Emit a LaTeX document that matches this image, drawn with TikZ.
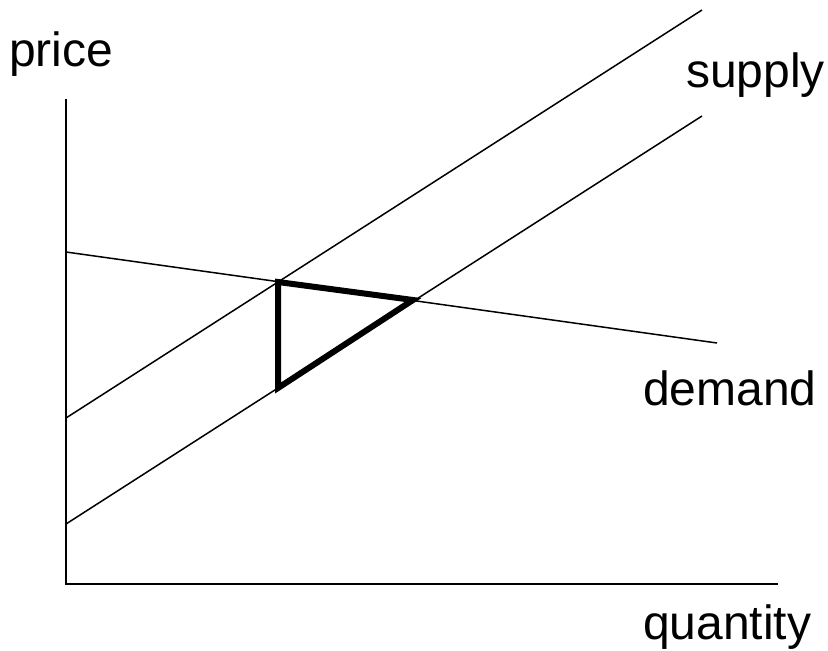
\documentclass[tikz,border=0pt]{standalone}
\usepackage{fontspec}
\setmainfont{Liberation Sans}
\begin{document}
\begin{tikzpicture}[x=1pt,y=-1pt,
  axis/.style={line width=2pt,line cap=rect},
  curve/.style={line width=1.5pt},
  welfare/.style={line width=6pt,line join=miter},
  lbl/.style={anchor=base west,inner sep=0pt,font=\fontsize{48}{56}\selectfont}]
\useasboundingbox (0,0) rectangle (828,651);
% axes
\coordinate (ytop) at (66,100);
\coordinate (origin) at (66,584);
\coordinate (xend) at (777,584);
\draw[axis] (ytop) -- (origin) -- (xend);
% demand
\coordinate (d0) at (66,252);
\coordinate (d1) at (717,343);
\draw[curve] (d0) -- (d1);
% supply curves
\coordinate (s0) at (66,418);
\coordinate (s1) at (702,10);
\coordinate (t0) at (66,524);
\coordinate (t1) at (702,116);
\draw[curve] (s0) -- (s1);
\draw[curve] (t0) -- (t1);
% triangle
\coordinate (A) at (278,282);
\coordinate (B) at (413,300);
\coordinate (C) at (278,388);
\draw[welfare] (A) -- (B) -- (C) -- cycle;
% labels
\node[lbl] (price) at (9,66) {price};
\node[lbl] (supply) at (686,87) {supply};
\node[lbl] (demand) at (643,405) {demand};
\node[lbl] (quantity) at (643,639) {quantity};
\end{tikzpicture}
\end{document}
